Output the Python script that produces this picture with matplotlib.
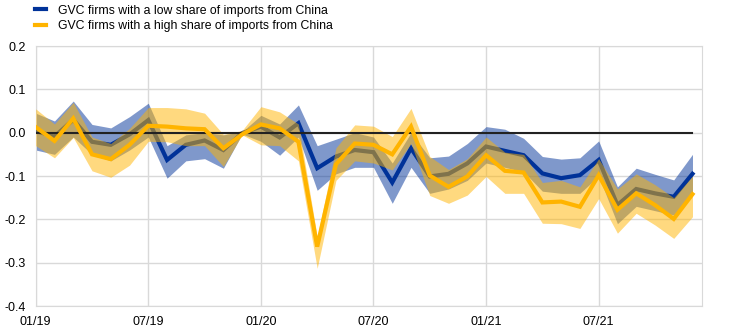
import matplotlib
matplotlib.use("Agg")
import matplotlib.pyplot as plt
import numpy as np

plt.rcParams['font.family'] = ['Liberation Sans', 'DejaVu Sans']

tick_labels = ["01/19", "07/19", "01/20", "07/20", "01/21", "07/21"]

low_share = [0.004, -0.009, 0.03, -0.021, -0.028, -0.004, 0.029, -0.063, -0.028, -0.018,
             -0.04, -0.001, 0.014, -0.011, 0.022, -0.082, -0.055, -0.04, -0.045, -0.115,
             -0.036, -0.101, -0.095, -0.071, -0.032, -0.042, -0.052, -0.094, -0.105, -0.098,
             -0.063, -0.167, -0.13, -0.14, -0.148, -0.095]
low_upper = [0.045, 0.027, 0.073, 0.019, 0.011, 0.037, 0.068, -0.03, -0.005, 0.0,
             -0.005, 0.002, 0.04, 0.02, 0.064, -0.03, -0.015, 0.0, -0.01, -0.07,
             0.0, -0.058, -0.054, -0.025, 0.014, 0.008, -0.013, -0.055, -0.061, -0.058,
             -0.019, -0.125, -0.082, -0.096, -0.109, -0.05]
low_lower = [-0.04, -0.05, -0.01, -0.05, -0.065, -0.04, -0.01, -0.105, -0.065, -0.06,
             -0.082, -0.003, -0.02, -0.052, -0.01, -0.133, -0.095, -0.08, -0.08, -0.163,
             -0.08, -0.14, -0.13, -0.11, -0.07, -0.08, -0.09, -0.135, -0.14, -0.14,
             -0.1, -0.21, -0.17, -0.18, -0.19, -0.14]

high_share = [0.013, -0.019, 0.033, -0.05, -0.061, -0.028, 0.016, 0.014, 0.01, 0.008,
              -0.036, -0.004, 0.019, 0.01, -0.021, -0.263, -0.073, -0.025, -0.028, -0.05,
              0.014, -0.099, -0.125, -0.101, -0.052, -0.088, -0.092, -0.161, -0.159, -0.171,
              -0.098, -0.178, -0.14, -0.167, -0.199, -0.142]
high_upper = [0.055, 0.02, 0.07, -0.01, -0.025, 0.01, 0.058, 0.058, 0.055, 0.045,
              -0.004, 0.005, 0.06, 0.048, 0.02, -0.24, -0.035, 0.018, 0.015, -0.009,
              0.056, -0.055, -0.085, -0.06, -0.01, -0.045, -0.05, -0.115, -0.11, -0.125,
              -0.06, -0.13, -0.095, -0.12, -0.15, -0.1]
high_lower = [-0.03, -0.058, -0.011, -0.088, -0.103, -0.075, -0.02, -0.021, -0.03, -0.03,
              -0.078, -0.005, -0.028, -0.03, -0.065, -0.313, -0.11, -0.065, -0.07, -0.086,
              -0.025, -0.145, -0.163, -0.144, -0.101, -0.14, -0.14, -0.209, -0.21, -0.221,
              -0.152, -0.232, -0.186, -0.213, -0.244, -0.194]

labels = ["GVC firms with a low share of imports from China",
          "GVC firms with a high share of imports from China"]

blue = "#003299"
yellow = "#FFB400"

x = np.arange(len(low_share))

fig = plt.figure(figsize=(7.41, 3.32), dpi=100)
ax = fig.add_axes([0.0482, 0.0783, 0.899, 0.7831])

ax.fill_between(x, low_lower, low_upper, color=blue, alpha=0.5, linewidth=0, zorder=2)
l1, = ax.plot(x, low_share, color=blue, linewidth=3, zorder=3, solid_joinstyle='miter')
ax.fill_between(x, high_lower, high_upper, color=yellow, alpha=0.5, linewidth=0, zorder=4)
ax.plot([0, len(x) - 1], [0, 0], color="#222222", linewidth=1.5, zorder=5)
l2, = ax.plot(x, high_share, color=yellow, linewidth=3, zorder=6, solid_joinstyle='miter')

ax.set_xlim(0, 35.5)
ax.set_ylim(-0.4, 0.2)
yt = np.arange(-0.4, 0.21, 0.1)
ax.set_yticks(yt)
ax.set_yticklabels([f"{v:.1f}" if abs(v) > 1e-9 else "0.0" for v in yt])
ax.set_xticks(np.arange(0, 36, 6))
ax.set_xticklabels(tick_labels)
ax.grid(True, color="#D9D9D9", linewidth=1, zorder=0)
ax.set_axisbelow(True)
for s in ax.spines.values():
    s.set_color("#D9D9D9")
ax.tick_params(length=0, labelsize=9, colors="#000000", pad=7)

fig.legend([l1, l2], labels, loc="upper left", bbox_to_anchor=(0.045, 0.99),
           frameon=False, fontsize=8.8, handlelength=0.9, handletextpad=1.0,
           labelspacing=0.3, borderaxespad=0, borderpad=0.1)

fig.savefig("out.png", dpi=100)
